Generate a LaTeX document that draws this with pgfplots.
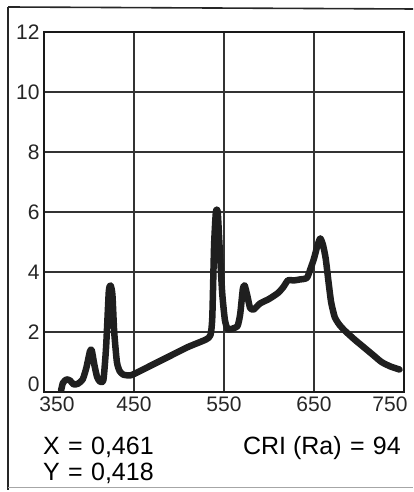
\documentclass[border=0pt]{standalone}
\usepackage{pgfplots}
\pgfplotsset{compat=1.18}
\usepackage{fontspec}
\setmainfont{Liberation Sans}

% relative spectral power distribution of the lamp
\pgfplotstableread{
wl   p
369  0.05
371  0.30
375  0.42
379  0.38
383  0.25
388  0.28
393  0.42
397  0.80
401  1.35
403  1.40
406  0.90
409  0.50
412  0.35
416  0.40
419  1.50
422  3.35
424  3.55
426  3.25
428  2.00
431  1.00
434  0.70
438  0.58
445  0.55
450  0.60
470  0.90
490  1.20
510  1.50
530  1.75
535  1.90
537  2.50
539  4.90
541  6.00
543  6.00
545  4.90
548  3.30
551  2.40
554  2.10
558  2.10
565  2.20
568  2.60
571  3.45
573  3.55
576  3.20
579  2.80
583  2.75
590  2.95
600  3.10
610  3.30
616  3.50
621  3.72
628  3.72
634  3.75
642  3.80
646  4.10
650  4.45
654  4.90
657  5.12
660  4.90
663  4.45
666  3.70
669  3.00
673  2.50
678  2.25
684  2.05
695  1.75
705  1.50
715  1.25
725  1.00
735  0.85
745  0.75
}\spd

\begin{document}
\begin{tikzpicture}[x=1pt,y=1pt]
\useasboundingbox (0,0) rectangle (413,492);
% outer frame
\draw[line width=2pt,black!85] (8,2) -- (8,485);
\draw[line width=1.6pt,black!85] (8,485) -- (413,483);
\draw[line width=0.8pt,black!35] (8,5) -- (413,5);

\begin{axis}[
  at={(44pt,100pt)}, anchor=south west,
  scale only axis, width=360pt, height=360pt,
  xmin=350, xmax=750, ymin=0, ymax=12,
  xtick={450,550,650}, ytick={2,4,...,12},
  extra x ticks={364.4,734.4}, extra x tick labels={350,750},
  extra y ticks={0.25}, extra y tick labels={0},
  extra tick style={grid=none},
  grid=major,
  major grid style={line width=1.2pt,black!80},
  tick style={draw=none},
  axis line style={line width=2pt,black!90},
  tick label style={font=\fontsize{21}{23}\selectfont, text=black!85},
  /pgf/number format/assume math mode=true,
  xticklabel style={yshift=-1pt},
  yticklabel style={xshift=-1pt},
]
\addplot[line width=6.5pt, black!88, line join=round, line cap=round,
  smooth, tension=0.35] table[x=wl,y=p] {\spd};
\end{axis}

\node[anchor=base west, inner sep=0pt, font=\fontsize{25}{27}\selectfont]
  at (43,37) {X\,\,=\,\,0,461};
\node[anchor=base west, inner sep=0pt, font=\fontsize{25}{27}\selectfont]
  at (43,12) {Y\,\,=\,\,0,418};
\node[anchor=base east, inner sep=0pt, font=\fontsize{25}{27}\selectfont]
  at (401,37) {CRI (Ra)\,\,=\,\,94};
\end{tikzpicture}
\end{document}
